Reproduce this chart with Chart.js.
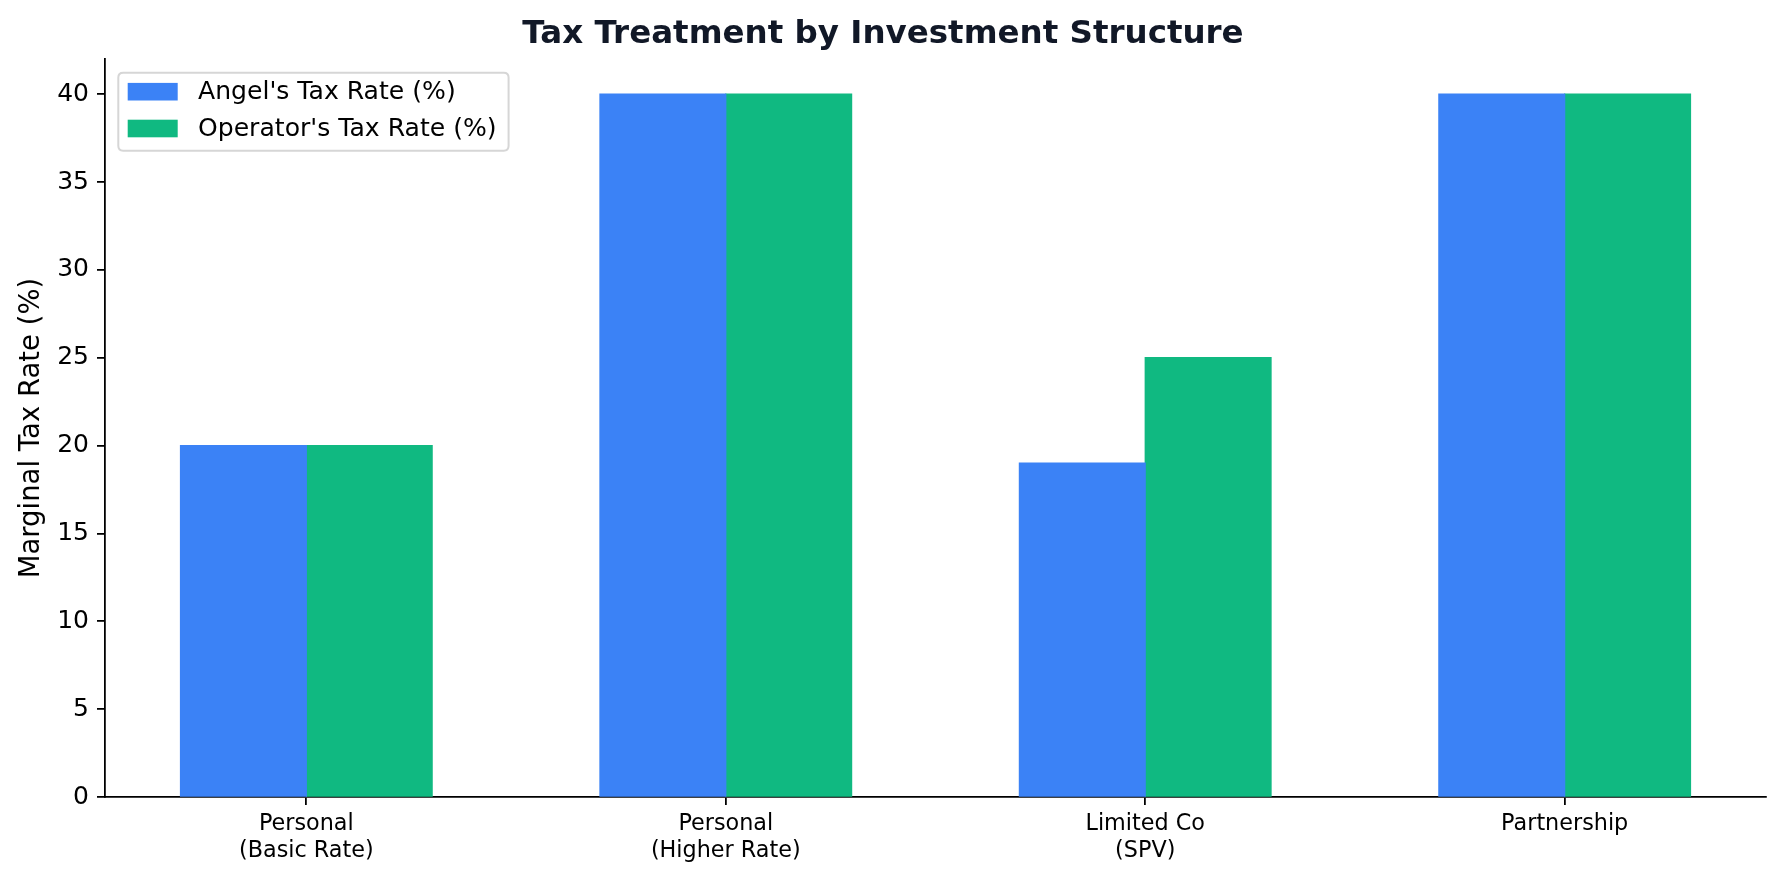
<!DOCTYPE html>
<html>
<head>
<meta charset="utf-8">
<script src="https://cdn.jsdelivr.net/npm/chart.js@4.4.1/dist/chart.umd.min.js"></script>
<style>
  html, body { margin: 0; padding: 0; background: #ffffff; }
  canvas { display: block; }
</style>
</head>
<body>
<canvas id="c" width="1783" height="882"></canvas>
<script>
// ---- data ----
const chartTitle = "Tax Treatment by Investment Structure";
const categories = [
  ["Personal", "(Basic Rate)"],
  ["Personal", "(Higher Rate)"],
  ["Limited Co", "(SPV)"],
  ["Partnership"]
];
const seriesNames = ["Angel's Tax Rate (%)", "Operator's Tax Rate (%)"];
const angelRates = [20, 40, 19, 40];
const operatorRates = [20, 40, 25, 40];
const yTickValues = [0, 5, 10, 15, 20, 25, 30, 35, 40];
const yAxisLabel = "Marginal Tax Rate (%)";

// ---- styling ----
const FONT = "DejaVu Sans";
const seriesColors = ["#3b82f6", "#10b981"];
const AXIS_LW = 1.78;

const toPoints = vals => vals.map((v, i) => ({ x: i, y: v }));

const legendPlugin = {
  id: 'mplLegend',
  afterDatasetsDraw(chart) {
    const ctx = chart.ctx;
    const area = chart.chartArea;
    const fs = 25.1;
    const left = area.left + 13.3;
    const top = area.top + 13.7;
    const textX = left + 79.7;
    ctx.save();
    ctx.font = fs + 'px "' + FONT + '"';
    const ds = chart.data.datasets;
    let maxW = 0;
    ds.forEach(d => { maxW = Math.max(maxW, ctx.measureText(d.label).width); });
    const w = (textX - left) + maxW + 12;
    const h = 78;
    const r = 4.9;
    ctx.beginPath();
    ctx.moveTo(left + r, top);
    ctx.lineTo(left + w - r, top);
    ctx.quadraticCurveTo(left + w, top, left + w, top + r);
    ctx.lineTo(left + w, top + h - r);
    ctx.quadraticCurveTo(left + w, top + h, left + w - r, top + h);
    ctx.lineTo(left + r, top + h);
    ctx.quadraticCurveTo(left, top + h, left, top + h - r);
    ctx.lineTo(left, top + r);
    ctx.quadraticCurveTo(left, top, left + r, top);
    ctx.closePath();
    ctx.fillStyle = 'rgba(255,255,255,0.8)';
    ctx.fill();
    ctx.lineWidth = 2;
    ctx.strokeStyle = '#d6d6d6';
    ctx.stroke();
    ds.forEach((d, i) => {
      const cy = top + 19 + i * 36.8;
      ctx.fillStyle = d.backgroundColor;
      ctx.fillRect(left + 9.4, cy - 8.8, 50, 17.6);
      ctx.fillStyle = '#000000';
      ctx.textAlign = 'left';
      ctx.textBaseline = 'middle';
      ctx.fillText(d.label, textX, cy + 1);
    });
    ctx.restore();
  }
};

new Chart(document.getElementById('c'), {
  type: 'bar',
  data: {
    datasets: [
      { label: seriesNames[0], data: toPoints(angelRates), backgroundColor: seriesColors[0], borderWidth: 0, inflateAmount: 0.6 },
      { label: seriesNames[1], data: toPoints(operatorRates), backgroundColor: seriesColors[1], borderWidth: 0, inflateAmount: 0.6 }
    ]
  },
  options: {
    responsive: false,
    animation: false,
    devicePixelRatio: 1,
    layout: { padding: { left: 0, right: 17, top: 0, bottom: 0 } },
    datasets: { bar: { categoryPercentage: 0.6, barPercentage: 1.0 } },
    plugins: {
      legend: { display: false },
      tooltip: { enabled: false },
      title: {
        display: true,
        text: chartTitle,
        color: '#111827',
        font: { family: FONT, size: 32.5, weight: 'bold', lineHeight: 1.2 },
        padding: { top: 15.1, bottom: 4.9 }
      }
    },
    scales: {
      x: {
        type: 'linear',
        min: -0.48,
        max: 3.48,
        offset: false,
        afterBuildTicks: s => { s.ticks = categories.map((_, i) => ({ value: i })); },
        afterFit: s => { s.height = 85; s.paddingLeft = 0; s.paddingRight = 0; },
        grid: { display: true, offset: false, drawOnChartArea: false, drawTicks: true, tickLength: 8, color: '#000000', lineWidth: AXIS_LW },
        border: { display: true, color: '#000000', width: AXIS_LW },
        ticks: {
          color: '#000000',
          font: { family: FONT, size: 22.3, lineHeight: 1.23 },
          padding: 5,
          maxRotation: 0,
          autoSkip: false,
          callback: v => categories[v]
        }
      },
      y: {
        type: 'linear',
        min: 0,
        max: 42,
        afterBuildTicks: s => { s.ticks = yTickValues.map(v => ({ value: v })); },
        afterFit: s => { s.width = 105; s.paddingTop = 0; s.paddingBottom = 0; },
        grid: { display: true, drawOnChartArea: false, drawTicks: true, tickLength: 8, color: '#000000', lineWidth: AXIS_LW },
        border: { display: true, color: '#000000', width: AXIS_LW },
        ticks: {
          color: '#000000',
          font: { family: FONT, size: 25 },
          padding: 8,
          callback: v => String(v)
        },
        title: {
          display: true,
          text: yAxisLabel,
          color: '#000000',
          font: { family: FONT, size: 27.5, lineHeight: 1.2 },
          padding: { top: 15.5, bottom: 0 }
        }
      }
    }
  },
  plugins: [legendPlugin]
});
</script>
</body>
</html>
